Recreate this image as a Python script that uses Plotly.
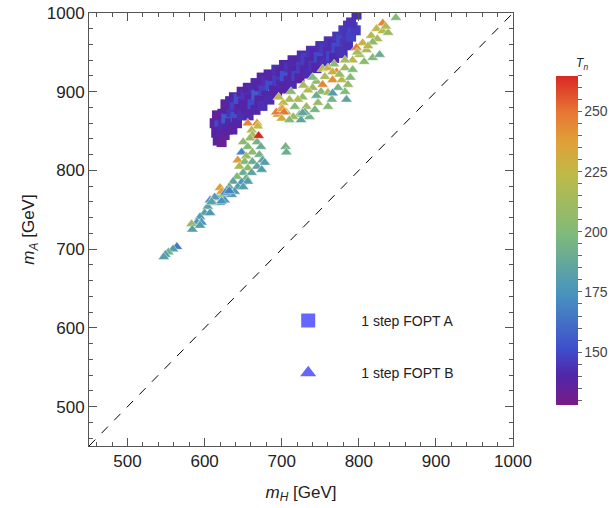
import plotly.graph_objects as go

# ---- Data: 1 step FOPT A (squares) ----
a_mH = [617,622,615,620,626,613,619,624,630,616,623,628,633,636,
        630,635,640,642,627,633,639,645,648,638,644,650,654,657,
        648,653,658,662,666,656,662,667,671,675,
        666,671,676,680,684,674,680,685,690,694,
        683,689,694,699,703,693,699,704,709,713,
        703,709,714,719,723,714,720,725,730,734,
        726,731,736,741,745,738,743,748,752,756,
        750,755,760,764,768,761,766,771,775,779,
        772,777,782,786,780,785,790,786,792,796,790,797]
a_mA = [838,836,848,850,845,860,862,858,852,870,872,866,860,852,
        878,874,868,860,884,888,884,878,870,893,891,886,878,870,
        900,896,891,884,877,905,902,896,889,882,
        911,907,902,895,890,918,914,908,902,897,
        922,920,915,909,904,928,925,920,914,910,
        934,931,926,920,917,940,937,932,927,923,
        946,943,938,933,930,952,949,944,939,936,
        958,955,950,945,943,964,961,956,951,949,
        970,967,962,959,978,975,970,984,982,978,988,998]
a_Tn = [136,133,138,140,135,137,150,142,139,134,138,155,141,137,
        140,144,152,139,136,141,148,137,143,139,152,140,138,141,
        137,145,139,150,140,138,142,156,139,143,
        141,138,147,140,142,139,143,151,140,138,
        140,138,146,141,139,143,140,152,139,141,
        139,144,140,148,138,141,139,146,140,142,
        142,147,141,145,140,143,141,150,142,143,
        143,146,142,149,141,144,142,150,143,144,
        144,149,145,143,146,144,148,145,149,146,144,142]

# ---- Data: 1 step FOPT B (triangles) ----
b_mH = [848,831,823,831,816,824,805,818,797,810,801,818,827,792,807,782,
        753,760,771,782,792,745,756,766,778,786,782,784,740,734,727,751,
        760,765,747,760,743,732,721,717,710,702,700,695,706,723,736,715,
        730,696,693,701,703,753,766,775,740,728,712,700,710,725,745,768,
        798,812,838,835,789,773,727,766,705,706,
        656,668,669,661,662,659,650,668,673,656,648,662,671,654,643,652,
        662,675,678,645,656,668,674,650,661,642,654,637,648,656,632,643,
        620,629,639,650,624,635,616,626,611,607,620,604,622,613,627,632,
        609,622,600,607,594,590,596,583,594,584,564,559,553,549,547,670]
b_mA = [994,987,980,977,971,967,962,963,956,953,947,943,947,940,938,940,
        929,930,925,930,928,913,919,915,915,909,900,890,905,902,893,900,
        899,890,886,881,877,881,890,881,890,886,879,871,874,871,868,868,
        874,893,874,878,874,909,925,922,918,908,900,866,864,864,895,935,
        950,958,975,983,918,905,873,898,830,823,
        860,860,856,851,845,841,836,836,830,830,823,823,820,818,813,811,
        811,813,810,805,803,805,801,797,797,792,790,786,785,786,779,779,
        778,775,773,779,769,769,765,762,759,762,759,754,773,766,772,774,
        760,761,746,746,741,734,734,732,730,725,703,700,696,693,690,844]
b_Tn = [200,245,225,222,220,215,228,205,248,218,212,200,190,222,205,215,
        220,225,245,210,200,205,215,243,220,208,200,185,210,222,205,200,
        215,195,210,200,195,212,220,200,215,225,245,240,220,205,195,210,
        190,222,248,235,250,245,230,210,200,215,205,230,200,185,190,205,
        215,220,210,218,200,195,185,180,195,190,
        245,240,225,220,215,210,205,195,190,200,170,205,195,210,240,200,
        190,185,180,215,205,185,180,190,185,200,195,185,175,180,190,180,
        240,185,178,182,195,180,185,178,190,170,182,185,238,180,172,168,
        183,175,182,178,180,178,176,210,180,182,165,180,195,178,182,265]

x_ticks = [500, 600, 700, 800, 900, 1000]
y_ticks = [500, 600, 700, 800, 900, 1000]
cb_labels = [150, 175, 200, 225, 250]

colorscale = [
    [0.00, "rgb(120,28,134)"],
    [0.09, "rgb(80,38,170)"],
    [0.17, "rgb(63,78,204)"],
    [0.34, "rgb(72,148,190)"],
    [0.52, "rgb(128,186,122)"],
    [0.70, "rgb(190,186,72)"],
    [0.80, "rgb(224,160,56)"],
    [0.89, "rgb(231,118,52)"],
    [1.00, "rgb(217,40,35)"],
]

cb_vals = list(range(130, 266, 5))
cb_text = [str(v) if v in cb_labels else "" for v in cb_vals]

fig = go.Figure()

fig.add_trace(go.Scatter(
    x=a_mH, y=a_mA, mode="markers", showlegend=False,
    marker=dict(symbol="square", size=10, color=a_Tn, coloraxis="coloraxis",
                line=dict(width=0)),
))
fig.add_trace(go.Scatter(
    x=b_mH, y=b_mA, mode="markers", showlegend=False,
    marker=dict(symbol="triangle-up", size=10, color=b_Tn, coloraxis="coloraxis",
                line=dict(width=0.6, color="rgba(255,255,255,0.7)")),
))

# legend entries
fig.add_trace(go.Scatter(
    x=[None], y=[None], mode="markers", name="1 step FOPT A", legendgroup="a",
    marker=dict(symbol="square", size=14, color="#6666ff"),
))
fig.add_trace(go.Scatter(
    x=[None], y=[None], mode="markers", name="1 step FOPT B", legendgroup="b",
    marker=dict(symbol="triangle-up", size=14, color="#6666ff"),
))

fig.add_shape(type="line", x0=450, y0=450, x1=1000, y1=1000, xref="x", yref="y",
              line=dict(color="black", width=1, dash="dash"))

axis_common = dict(
    showgrid=False, zeroline=False, showline=True, linecolor="#555", linewidth=1,
    mirror="allticks", ticks="inside", ticklen=8, tickcolor="#555",
    tickfont=dict(size=17, color="#222"),
    minor=dict(ticks="inside", ticklen=4, dtick=20, tickcolor="#555"),
)

fig.update_layout(
    width=614, height=508,
    margin=dict(l=89, r=101, t=13, b=62, autoexpand=False),
    paper_bgcolor="white", plot_bgcolor="white",
    font=dict(family="Liberation Sans, Arial, sans-serif", color="#222"),
    xaxis=dict(range=[450, 1000], tickvals=x_ticks, automargin=False,
               title=dict(text="<i>m<sub>H</sub></i> [GeV]", font=dict(size=17), standoff=15),
               **axis_common),
    yaxis=dict(range=[450, 1000], tickvals=y_ticks, automargin=False,
               title=dict(text="<i>m<sub>A</sub></i> [GeV]", font=dict(size=17), standoff=7),
               **axis_common),
    coloraxis=dict(
        colorscale=colorscale, cmin=128, cmax=265,
        colorbar=dict(
            x=1.078, xanchor="left", y=0.0716, yanchor="bottom",
            thickness=22, len=370, lenmode="pixels",
            outlinewidth=0,
            tickmode="array", tickvals=cb_vals, ticktext=cb_text,
            ticks="outside", ticklen=4, tickcolor="#666",
            tickfont=dict(size=14, color="#444"),
            title=dict(text="&nbsp;&nbsp;&nbsp;&nbsp;&nbsp;&nbsp;<i>T<sub>n</sub></i>",
                       side="top", font=dict(size=12, color="#222")),
        ),
    ),
    legend=dict(
        x=0.392, y=0.326, xanchor="left", yanchor="top",
        itemwidth=96, tracegroupgap=31, traceorder="grouped",
        font=dict(size=14, color="#222"), bgcolor="rgba(0,0,0,0)",
    ),
)

# remove the browser's default 8px page margin so the figure fills the window
fig.write_html("out.html", config={"displayModeBar": False},
               post_script="document.body.style.margin='0px';")
